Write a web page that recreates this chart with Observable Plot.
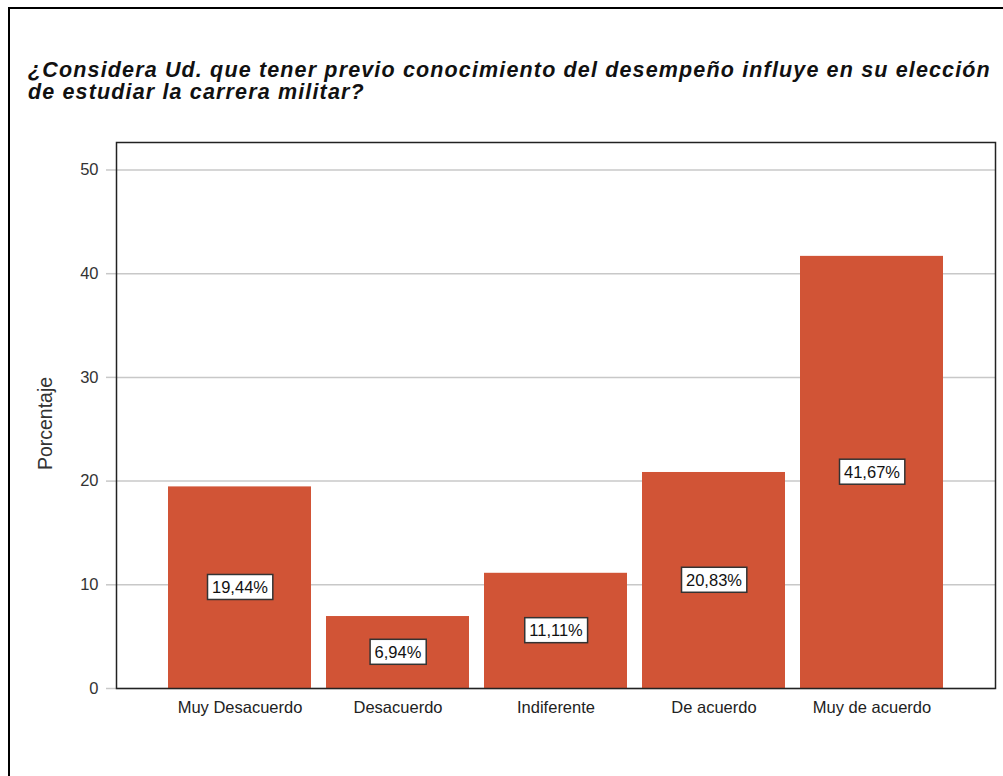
<!DOCTYPE html>
<html>
<head>
<meta charset="utf-8">
<script src="https://cdn.jsdelivr.net/npm/d3@7"></script>
<script src="https://cdn.jsdelivr.net/npm/@observablehq/plot@0.6"></script>
<style>
  html, body { margin: 0; padding: 0; background: #fff; width: 1003px; height: 776px; overflow: hidden; }
  #frame { position: absolute; left: 8px; top: 7px; width: 1000px; height: 800px; border-left: 2px solid #000; border-top: 2px solid #000; }
  #title { position: absolute; left: 28px; top: 59px; font-family: "Liberation Sans", Arial, sans-serif; font-weight: bold; font-style: italic; font-size: 21.5px; line-height: 22px; letter-spacing: 1.15px; color: #111; white-space: nowrap; }
  #chart { position: absolute; left: 0; top: 120px; }
</style>
</head>
<body>
<div id="frame"></div>
<div id="title">¿Considera Ud. que tener previo conocimiento del desempeño influye en su elección<br>de estudiar la carrera militar?</div>
<div id="chart"></div>
<script>
const categories = ["Muy Desacuerdo", "Desacuerdo", "Indiferente", "De acuerdo", "Muy de acuerdo"];
const values = [19.44, 6.94, 11.11, 20.83, 41.67];
const valueLabels = ["19,44%", "6,94%", "11,11%", "20,83%", "41,67%"];
const yTicks = [0, 10, 20, 30, 40, 50];
const yLabel = "Porcentaje";

const data = categories.map((c, i) => ({cat: c, val: values[i], label: valueLabels[i]}));
const font = "Liberation Sans, Arial, sans-serif";

const chart = Plot.plot({
  width: 1003,
  height: 640,
  marginLeft: 116,
  marginRight: 8,
  marginTop: 22,
  marginBottom: 72,
  style: {fontFamily: font, background: "transparent"},
  x: {domain: categories, paddingInner: 0.098, paddingOuter: 0.33, label: null},
  y: {domain: [0, 52.65], label: null},
  marks: [
    Plot.gridY(yTicks, {stroke: "#c8c8c8", strokeOpacity: 1, strokeWidth: 1.5}),
    Plot.axisY(yTicks, {tickSize: 10, stroke: "#c8c8c8", strokeWidth: 1.5, tickPadding: 8, fontSize: 16.5, fill: "#333", label: null}),
    Plot.axisX({tickSize: 0, tickPadding: 13, fontSize: 16.5, fill: "#222", label: null}),
    Plot.barY(data, {x: "cat", y: "val", fill: "#d15436"}),
    Plot.text(data, {x: "cat", y: d => d.val / 2, text: "label", fontSize: 16.5, fill: "#111"}),
    Plot.text([yLabel], {frameAnchor: "left", textAnchor: "middle", dx: -71, dy: 8, rotate: -90, fontSize: 19.5, fill: "#333"}),
    Plot.frame({stroke: "#222", strokeWidth: 1.5})
  ]
});
document.getElementById("chart").appendChild(chart);

// white boxes behind the value labels
d3.select(chart).selectAll("text")
  .filter(function() { return valueLabels.includes(this.textContent); })
  .each(function() {
    const bb = this.getBBox();
    const t = this.getAttribute("transform");
    const r = document.createElementNS("http://www.w3.org/2000/svg", "rect");
    r.setAttribute("x", bb.x - 4.5);
    r.setAttribute("y", bb.y - 3.5);
    r.setAttribute("width", bb.width + 9);
    r.setAttribute("height", bb.height + 7);
    r.setAttribute("fill", "#fff");
    r.setAttribute("stroke", "#333");
    r.setAttribute("stroke-width", 1.5);
    if (t) r.setAttribute("transform", t);
    this.parentNode.insertBefore(r, this);
  });
</script>
</body>
</html>
